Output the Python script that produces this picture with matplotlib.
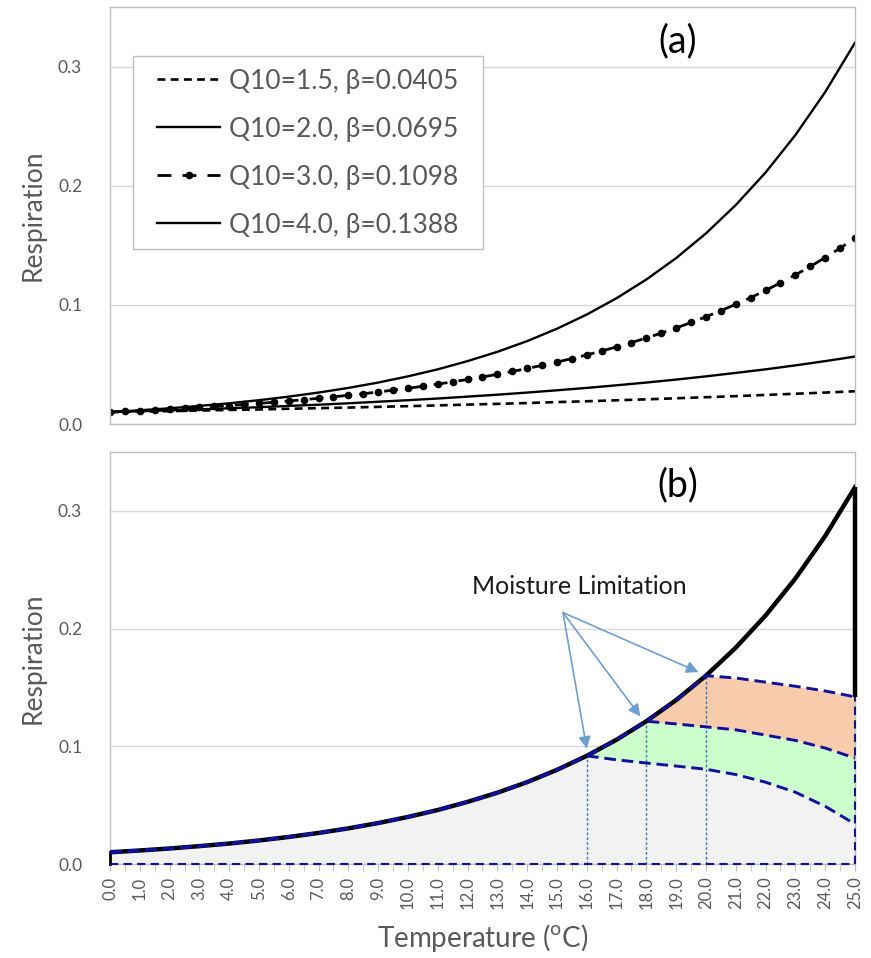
import matplotlib
matplotlib.use("Agg")
import matplotlib.pyplot as plt
from matplotlib.patches import Rectangle
from matplotlib.ticker import MultipleLocator, FixedLocator, FormatStrFormatter

# temperatures (deg C)
TEMPS = [0, 1, 2, 3, 4, 5, 6, 7, 8, 9, 10, 11, 12, 13, 14, 15, 16, 17, 18, 19, 20,
         21, 22, 23, 24, 25]
TEMPS_HALF = [0.0, 0.5, 1.0, 1.5, 2.0, 2.5, 3.0, 3.5, 4.0, 4.5, 5.0, 5.5, 6.0, 6.5,
              7.0, 7.5, 8.0, 8.5, 9.0, 9.5, 10.0, 10.5, 11.0, 11.5, 12.0, 12.5, 13.0,
              13.5, 14.0, 14.5, 15.0, 15.5, 16.0, 16.5, 17.0, 17.5, 18.0, 18.5, 19.0,
              19.5, 20.0, 20.5, 21.0, 21.5, 22.0, 22.5, 23.0, 23.5, 24.0, 24.5, 25.0]

# panel (a) respiration curves
R_Q15 = [0.0100, 0.0104, 0.0108, 0.0113, 0.0118, 0.0122, 0.0128, 0.0133, 0.0138,
         0.0144, 0.0150, 0.0156, 0.0163, 0.0169, 0.0176, 0.0184, 0.0191, 0.0199,
         0.0207, 0.0216, 0.0225, 0.0234, 0.0244, 0.0254, 0.0264, 0.0275]
R_Q20 = [0.0100, 0.0107, 0.0115, 0.0123, 0.0132, 0.0141, 0.0152, 0.0162, 0.0174,
         0.0187, 0.0200, 0.0214, 0.0230, 0.0246, 0.0264, 0.0283, 0.0303, 0.0325,
         0.0348, 0.0373, 0.0400, 0.0429, 0.0459, 0.0492, 0.0528, 0.0566]
R_Q30 = [0.0100, 0.0106, 0.0112, 0.0118, 0.0125, 0.0132, 0.0139, 0.0147, 0.0155,
         0.0164, 0.0173, 0.0183, 0.0193, 0.0204, 0.0216, 0.0228, 0.0241, 0.0254,
         0.0269, 0.0284, 0.0300, 0.0317, 0.0335, 0.0354, 0.0374, 0.0395, 0.0417,
         0.0441, 0.0466, 0.0492, 0.0520, 0.0549, 0.0580, 0.0613, 0.0647, 0.0684,
         0.0722, 0.0763, 0.0806, 0.0852, 0.0900, 0.0951, 0.1005, 0.1061, 0.1121,
         0.1185, 0.1251, 0.1322, 0.1397, 0.1476, 0.1559]
R_Q40 = [0.0100, 0.0115, 0.0132, 0.0152, 0.0174, 0.0200, 0.0230, 0.0264, 0.0303,
         0.0348, 0.0400, 0.0459, 0.0528, 0.0606, 0.0696, 0.0800, 0.0919, 0.1056,
         0.1213, 0.1393, 0.1600, 0.1838, 0.2111, 0.2425, 0.2786, 0.3200]
LEGEND_LABELS = ["Q10=1.5, β=0.0405", "Q10=2.0, β=0.0695",
                 "Q10=3.0, β=0.1098", "Q10=4.0, β=0.1388"]

# panel (b) moisture-limited curves, from their onset temperature to 25
ONSETS = [16, 18, 20]
LIMIT_LOW = [0.0919, 0.0885, 0.0858, 0.0832, 0.0805, 0.0760, 0.0695, 0.0610,
             0.0490, 0.0340]
LIMIT_MID = [0.1213, 0.1190, 0.1165, 0.1140, 0.1095, 0.1050, 0.0985, 0.0900]
LIMIT_TOP = [0.1600, 0.1580, 0.1545, 0.1510, 0.1470, 0.1420]
ANNOT_TEXT = "Moisture Limitation"

GREY_TEXT = "#595959"
FRAME = "#bfbfbf"
GRID = "#d9d9d9"
NAVY = "#10109a"
ARROW = "#6f9fd0"
DROP = "#3a78b8"
FONT = ["Lato", "DejaVu Sans"]


def style_axes(ax):
    ax.set_xlim(0, 25)
    ax.set_ylim(0, 0.35)
    ax.yaxis.set_major_locator(FixedLocator([0.0, 0.1, 0.2, 0.3]))
    ax.yaxis.set_major_formatter(FormatStrFormatter("%.1f"))
    ax.grid(axis="y", color=GRID, linewidth=1.0, zorder=0)
    ax.set_axisbelow(True)
    for sp in ax.spines.values():
        sp.set_color(FRAME)
        sp.set_linewidth(1.0)
    ax.tick_params(axis="y", length=0, pad=20, labelsize=12.5, labelcolor=GREY_TEXT)
    ax.set_ylabel("Respiration", fontsize=19, color=GREY_TEXT, labelpad=9)


def limited_series(onset, tail):
    i = TEMPS.index(onset)
    return TEMPS, R_Q40[:i] + tail


def main():
    plt.rcParams["font.family"] = FONT
    plt.rcParams["mathtext.fontset"] = "custom"
    plt.rcParams["mathtext.rm"] = "Lato"

    fig = plt.figure(figsize=(8.71, 9.58), dpi=100)
    ax_a = fig.add_axes([0.1263, 0.5574, 0.8553, 0.4353])
    ax_b = fig.add_axes([0.1263, 0.0981, 0.8553, 0.4301])

    # ── panel (a) ──
    style_axes(ax_a)
    ax_a.tick_params(axis="x", length=0, labelbottom=False)
    ax_a.plot(TEMPS, R_Q15, color="black", lw=1.9, ls=(0, (3.0, 2.0)), label=LEGEND_LABELS[0])
    ax_a.plot(TEMPS, R_Q20, color="black", lw=1.7, label=LEGEND_LABELS[1])
    ax_a.plot(TEMPS_HALF, R_Q30, color="black", lw=2.0, ls=(0, (5, 4)),
              marker="o", markersize=4.5, label=LEGEND_LABELS[2])
    ax_a.plot(TEMPS, R_Q40, color="black", lw=1.7, label=LEGEND_LABELS[3])

    # legend box drawn separately so its padding can match the original
    ax_a.add_patch(Rectangle((0.0309, 0.4197), 0.4698, 0.4628, transform=ax_a.transAxes,
                             facecolor="white", edgecolor=FRAME, lw=1.0, zorder=4))
    leg = ax_a.legend(loc="upper left", bbox_to_anchor=(0.0631, 0.852), fontsize=19,
                      frameon=False, handlelength=2.4, handletextpad=0.34,
                      labelspacing=0.87, borderpad=0, borderaxespad=0)
    leg.set_zorder(5)
    for t in leg.get_texts():
        t.set_color(GREY_TEXT)
    ax_a.text(0.762, 0.918, "(a)", transform=ax_a.transAxes, fontsize=27,
              ha="center", va="center", color="black")

    # ── panel (b) ──
    style_axes(ax_b)
    ax_b.xaxis.set_major_locator(MultipleLocator(1))
    ax_b.xaxis.set_minor_locator(MultipleLocator(0.5))
    ax_b.xaxis.set_major_formatter(FormatStrFormatter("%.1f"))
    ax_b.tick_params(axis="x", which="both", length=5, color=FRAME, labelsize=12,
                     labelcolor=GREY_TEXT, labelrotation=90, pad=4)
    ax_b.set_xlabel(r"Temperature ($^{\mathrm{o}}$C)", fontsize=20, color=GREY_TEXT,
                    labelpad=9)

    x_low, y_low = limited_series(ONSETS[0], LIMIT_LOW)
    x_mid, y_mid = limited_series(ONSETS[1], LIMIT_MID)
    x_top, y_top = limited_series(ONSETS[2], LIMIT_TOP)

    ax_b.fill_between(x_low, 0, y_low, color="#f2f2f2", lw=0, zorder=1)
    ax_b.fill_between(x_low, y_low, y_mid, color="#ccffcc", lw=0, zorder=1)
    ax_b.fill_between(x_mid, y_mid, y_top, color="#f8cbad", lw=0, zorder=1)

    ax_b.plot(TEMPS, R_Q40, color="black", lw=3.2, zorder=3)
    ax_b.plot([25, 25], [LIMIT_TOP[-1], R_Q40[-1]], color="black", lw=3.2, zorder=3,
              solid_capstyle="butt", clip_on=False)
    ax_b.plot([0, 0], [0, R_Q40[0]], color="black", lw=2.0, zorder=3, clip_on=False)

    for xs, ys in [(x_low, y_low), (x_mid, y_mid), (x_top, y_top)]:
        ax_b.plot(xs, ys, color=NAVY, lw=2.1, ls=(0, (4, 2)), zorder=4)
    ax_b.plot([0, 25], [0, 0], color=NAVY, lw=1.5, ls=(0, (4, 2.5)), zorder=4,
              clip_on=False)
    ax_b.plot([25, 25], [0, LIMIT_TOP[-1]], color=NAVY, lw=1.5, ls=(0, (4, 2.5)),
              zorder=4, clip_on=False)

    for onset in ONSETS:
        top = R_Q40[TEMPS.index(onset)]
        ax_b.plot([onset, onset], [0, top], color=DROP, lw=1.0, ls=(0, (2, 1.5)), zorder=2)

    text_xy = (15.2, 0.2136)
    ax_b.text(15.75, 0.236, ANNOT_TEXT, fontsize=18, color="#1a1a1a",
              ha="center", va="center")
    for onset, dx, dy in [(ONSETS[0], 0.0, 0.006), (ONSETS[1], -0.2, 0.004),
                          (ONSETS[2], -0.25, 0.003)]:
        target = (onset + dx, R_Q40[TEMPS.index(onset)] + dy)
        ax_b.annotate("", xy=target, xytext=text_xy,
                      arrowprops=dict(arrowstyle="-|>", color=ARROW, lw=1.2,
                                      mutation_scale=18, shrinkA=0, shrinkB=0),
                      zorder=5)
    ax_b.text(0.762, 0.92, "(b)", transform=ax_b.transAxes, fontsize=27,
              ha="center", va="center", color="black")

    fig.savefig("out.png", dpi=100)
    plt.close(fig)


if __name__ == "__main__":
    main()
